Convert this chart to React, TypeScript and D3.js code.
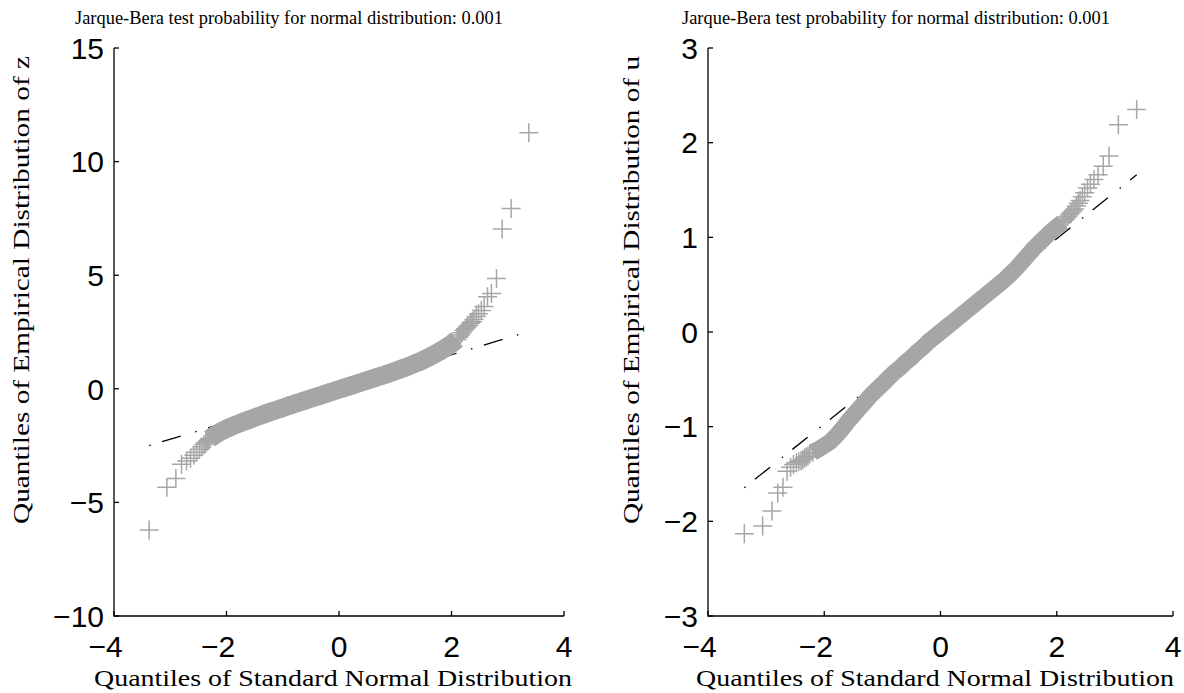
import React from 'react'
import * as d3 from 'd3'

const width = 1184
const height = 693

// [standard normal quantile, empirical quantile]
const zLowTail = [
  [-3.375, -6.21], [-3.06, -4.33], [-2.9, -3.95], [-2.8, -3.32], [-2.71, -3.18],
  [-2.64, -3.06], [-2.58, -2.92], [-2.53, -2.79], [-2.48, -2.66], [-2.44, -2.55],
  [-2.4, -2.45], [-2.37, -2.38], [-2.34, -2.31], [-2.31, -2.25],
]
const zBand = [
  [-2.3, -2.2], [-2.2, -2.02], [-2.1, -1.88], [-2.0, -1.76], [-1.9, -1.65], [-1.8, -1.55],
  [-1.7, -1.45], [-1.6, -1.36], [-1.5, -1.27], [-1.4, -1.18], [-1.3, -1.09], [-1.2, -1.0],
  [-1.1, -0.92], [-1.0, -0.84], [-0.9, -0.75], [-0.8, -0.67], [-0.7, -0.59], [-0.6, -0.51],
  [-0.5, -0.43], [-0.4, -0.35], [-0.3, -0.27], [-0.2, -0.19], [-0.1, -0.11], [0, -0.03],
  [0.1, 0.05], [0.2, 0.13], [0.3, 0.21], [0.4, 0.29], [0.5, 0.37], [0.6, 0.45],
  [0.7, 0.53], [0.8, 0.61], [0.9, 0.69], [1.0, 0.78], [1.1, 0.87], [1.2, 0.96],
  [1.3, 1.06], [1.4, 1.16], [1.5, 1.27], [1.6, 1.39], [1.7, 1.52], [1.8, 1.66],
  [1.9, 1.81], [2.0, 1.98], [2.1, 2.17],
]
const zHighTail = [
  [2.13, 2.27], [2.16, 2.37], [2.19, 2.47], [2.22, 2.57], [2.25, 2.64], [2.28, 2.72],
  [2.31, 2.8], [2.34, 2.88], [2.37, 2.95], [2.4, 3.05], [2.44, 3.18], [2.48, 3.3],
  [2.53, 3.45], [2.58, 3.62], [2.64, 4.05], [2.71, 4.2], [2.8, 4.86], [2.9, 7.03],
  [3.06, 7.94], [3.375, 11.27],
]
const zFitLine = [[-3.375, -2.5], [3.375, 2.52]]

const uLowTail = [
  [-3.375, -2.13], [-3.06, -2.05], [-2.9, -1.89], [-2.8, -1.7], [-2.71, -1.64],
  [-2.64, -1.47], [-2.58, -1.43], [-2.53, -1.4], [-2.48, -1.38], [-2.44, -1.37],
  [-2.4, -1.36], [-2.37, -1.35], [-2.34, -1.33], [-2.31, -1.32], [-2.28, -1.31], [-2.25, -1.29],
]
const uBand = [
  [-2.2, -1.27], [-2.1, -1.24], [-2.0, -1.2], [-1.9, -1.16], [-1.8, -1.1], [-1.7, -1.03],
  [-1.6, -0.95], [-1.5, -0.88], [-1.4, -0.81], [-1.3, -0.74], [-1.2, -0.67], [-1.1, -0.61],
  [-1.0, -0.55], [-0.9, -0.49], [-0.8, -0.43], [-0.7, -0.38], [-0.6, -0.32], [-0.5, -0.27],
  [-0.4, -0.21], [-0.3, -0.16], [-0.2, -0.1], [-0.1, -0.05], [0, 0.0], [0.1, 0.05],
  [0.2, 0.1], [0.3, 0.15], [0.4, 0.2], [0.5, 0.25], [0.6, 0.3], [0.7, 0.35],
  [0.8, 0.4], [0.9, 0.45], [1.0, 0.5], [1.1, 0.55], [1.2, 0.61], [1.3, 0.67],
  [1.4, 0.74], [1.5, 0.81], [1.6, 0.88], [1.7, 0.94], [1.8, 1.0], [1.9, 1.06],
  [2.0, 1.11], [2.1, 1.16],
]
const uHighTail = [
  [2.13, 1.18], [2.16, 1.2], [2.19, 1.22], [2.22, 1.24], [2.25, 1.26], [2.28, 1.28],
  [2.31, 1.3], [2.34, 1.33], [2.37, 1.36], [2.4, 1.39], [2.44, 1.43], [2.48, 1.47],
  [2.53, 1.52], [2.58, 1.56], [2.64, 1.61], [2.71, 1.66], [2.8, 1.75], [2.9, 1.86],
  [3.06, 2.19], [3.375, 2.35],
]
const uFitLine = [[-3.375, -1.645], [3.375, 1.66]]

const xTicks = [-4, -2, 0, 2, 4]
const zTicks = [-10, -5, 0, 5, 10, 15]
const uTicks = [-3, -2, -1, 0, 1, 2, 3]

const title = 'Jarque-Bera test probability for normal distribution: 0.001'
const xLabel = 'Quantiles of Standard Normal Distribution'

const panels = [
  {
    left: 114, right: 564, yDomain: [-10, 15], yTicks: zTicks,
    low: zLowTail, band: zBand, high: zHighTail, fit: zFitLine, bandWidth: 18.5,
    yLabel: 'Quantiles of Empirical Distribution of z', yLabelX: 29,
    titleX: 289, xLabelX: 333,
  },
  {
    left: 708, right: 1173, yDomain: [-3, 3], yTicks: uTicks,
    low: uLowTail, band: uBand, high: uHighTail, fit: uFitLine, bandWidth: 16.5,
    yLabel: 'Quantiles of Empirical Distribution of u', yLabelX: 639,
    titleX: 896, xLabelX: 935,
  },
]

const top = 48
const bottom = 616
const yLabelY = 290
const gray = '#a6a6a6'
const serif = '"Liberation Serif", "DejaVu Serif", serif'
const sans = '"Liberation Sans", Arial, Helvetica, sans-serif'

const cross = (x: number, y: number) => `M${x - 9.5},${y}h19M${x},${y - 9.5}v19`
const fmt = (t: number) => (t < 0 ? '\u2212' + Math.abs(t) : String(t))

const Panel = ({p}: {p: any}) => {
  const x = d3.scaleLinear().domain([-4, 4]).range([p.left, p.right])
  const y = d3.scaleLinear().domain(p.yDomain).range([bottom, top])
  const line = d3.line<number[]>().x(d => x(d[0])).y(d => y(d[1]))
  const points = [...p.low, ...p.band, ...p.high]

  return (
    <g>
      <text x={p.titleX} y={24} textAnchor="middle" fontFamily={serif} fontSize={18}
        textLength={428} lengthAdjust="spacingAndGlyphs">{title}</text>

      {/* reference line through the quartiles, under the data */}
      <path d={line(p.fit) || ''} fill="none" stroke="#000" strokeWidth={1.3}
        strokeDasharray="1.5 12 19.5 15" />

      {/* dense middle: overlapping markers merge into a band */}
      <path d={line(p.band) || ''} fill="none" stroke={gray} strokeWidth={p.bandWidth}
        strokeLinejoin="round" />
      <path d={points.map(d => cross(x(d[0]), y(d[1]))).join('')} fill="none"
        stroke={gray} strokeWidth={1.5} />

      <path d={`M${p.left},${top}V${bottom}H${p.right}`} fill="none" stroke="#000" strokeWidth={1.3} />
      {xTicks.map(t => (
        <g key={'x' + t}>
          <line x1={x(t)} x2={x(t)} y1={bottom} y2={bottom - 5} stroke="#000" strokeWidth={1.3} />
          <text x={x(t) - (t < 0 ? 8.5 : 0)} y={657} textAnchor="middle" fontFamily={sans}
            fontSize={30}>{fmt(t)}</text>
        </g>
      ))}
      {p.yTicks.map((t: number) => (
        <g key={'y' + t}>
          <line x1={p.left} x2={p.left + 5} y1={y(t)} y2={y(t)} stroke="#000" strokeWidth={1.3} />
          <text x={p.left - 10} y={y(t)} dy="0.36em" textAnchor="end" fontFamily={sans}
            fontSize={30}>{fmt(t)}</text>
        </g>
      ))}

      <text x={p.xLabelX} y={686} textAnchor="middle" fontFamily={serif} fontSize={24}
        textLength={478} lengthAdjust="spacingAndGlyphs">{xLabel}</text>
      <text transform={`translate(${p.yLabelX},${yLabelY}) rotate(-90)`}
        textAnchor="middle" fontFamily={serif} fontSize={24}
        textLength={468} lengthAdjust="spacingAndGlyphs">{p.yLabel}</text>
    </g>
  )
}

export default function App() {
  return (
    <svg width={width} height={height} style={{position: 'absolute', left: 0, top: 0, background: '#fff'}}>
      <rect width={width} height={height} fill="#fff" />
      {panels.map((p, i) => <Panel key={i} p={p} />)}
    </svg>
  )
}
